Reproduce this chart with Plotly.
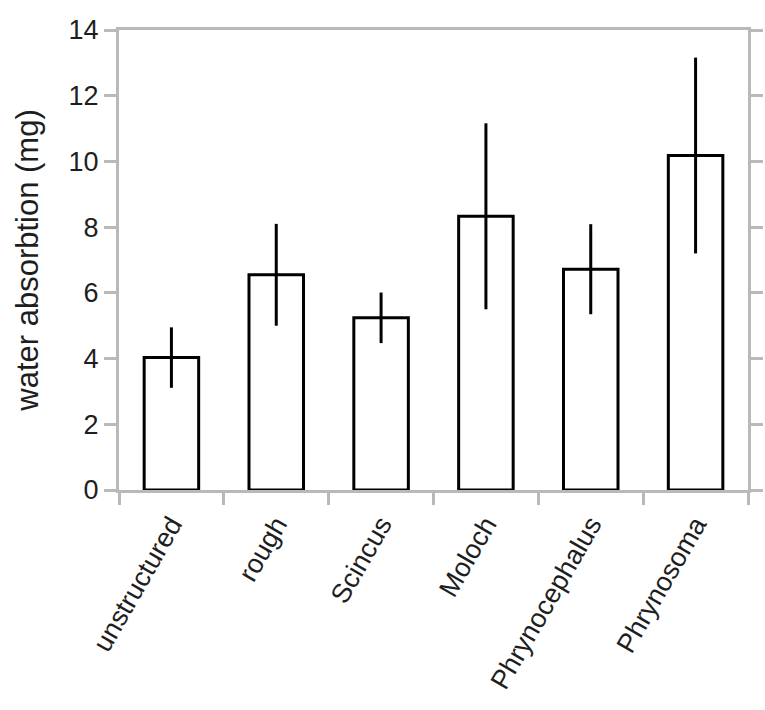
import plotly.graph_objects as go

categories = ["unstructured", "rough", "Scincus", "Moloch", "Phrynocephalus", "Phrynosoma"]
values = [4.03, 6.55, 5.24, 8.33, 6.72, 10.18]
errors = [0.92, 1.55, 0.77, 2.83, 1.37, 2.98]
y_ticks = [0, 2, 4, 6, 8, 10, 12, 14]

AXIS = "#b9b9b9"
TEXT = "#1e1e1e"
FONT = "Liberation Sans, Arial, sans-serif"

fig = go.Figure()
fig.add_trace(go.Bar(
    x=categories,
    y=values,
    width=0.52,
    marker=dict(color="white", line=dict(color="black", width=3)),
    error_y=dict(type="data", array=errors, visible=True,
                 color="black", thickness=3, width=0),
    showlegend=False,
))

fig.update_layout(
    width=765, height=710,
    margin=dict(l=119, r=17, t=30, b=220),
    paper_bgcolor="white", plot_bgcolor="white",
    font=dict(family=FONT, size=27, color=TEXT),
    xaxis=dict(
        type="category", automargin=False,
        showline=True, linecolor=AXIS, linewidth=3, mirror=True,
        ticks="outside", tickson="boundaries", ticklen=12, tickwidth=3, tickcolor=AXIS,
        tickangle=-60, ticklabelstandoff=5, showgrid=False, zeroline=False,
        tickfont=dict(size=27, color=TEXT),
    ),
    yaxis=dict(
        range=[0, 14], tickvals=y_ticks, automargin=False,
        showline=True, linecolor=AXIS, linewidth=3, mirror="allticks",
        ticks="outside", ticklen=12, tickwidth=3, tickcolor=AXIS,
        ticklabelstandoff=0,
        showgrid=False, zeroline=False,
        tickfont=dict(size=27, color=TEXT),
        title=dict(text="water absorbtion (mg)", font=dict(size=31, color=TEXT), standoff=21),
    ),
)

fig.write_html("out.html", config={"displayModeBar": False},
               post_script="document.body.style.margin='0px';document.body.style.padding='0px';")
